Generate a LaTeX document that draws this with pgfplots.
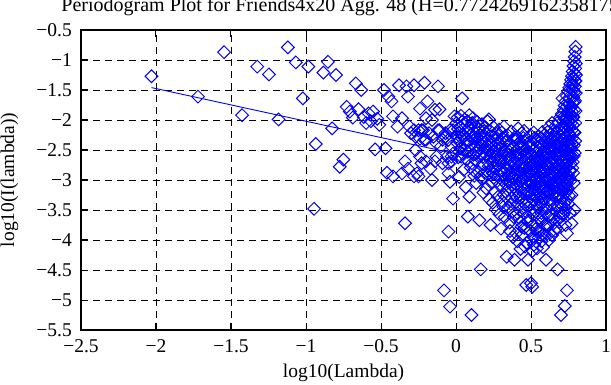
\documentclass[border=0pt]{standalone}
\usepackage{fontspec}
\setmainfont{Liberation Serif}
\usepackage{pgfplots}
\pgfplotsset{compat=1.18}
\newcommand{\fs}{\fontsize{19.5bp}{23bp}\selectfont}
\newcommand{\fst}{\fontsize{20bp}{24bp}\selectfont}
\begin{document}
\begin{tikzpicture}
\begin{axis}[
  scale only axis, width=525bp, height=300bp,
  xmin=-2.5, xmax=1, ymin=-5.5, ymax=-0.5,
  xtick={-2.5,-2,-1.5,-1,-0.5,0,0.5,1},
  xticklabels={−2.5,−2,−1.5,−1,−0.5,0,0.5,1},
  ytick={-5.5,-5,-4.5,-4,-3.5,-3,-2.5,-2,-1.5,-1,-0.5},
  yticklabels={−5.5,−5,−4.5,−4,−3.5,−3,−2.5,−2,−1.5,−1,−0.5},
  tick label style={font=\fs},
  yticklabel style={inner sep=0pt, xshift=-9bp},
  xticklabel style={inner sep=0pt, yshift=-9bp},
  tick align=inside, major tick length=7bp,
  tick style={black, line width=1bp},
  axis line style={black, line width=2bp},
  grid=major,
  major grid style={black, line width=0.9bp, dash pattern=on 7bp off 5bp},
  title={Periodogram Plot for Friends4x20 Agg. 48 (H=0.7724269162358175)},
  title style={font=\fst, at={(axis description cs:0.5,1.0433)}, anchor=base, inner sep=0pt},
  xlabel={log10(Lambda)},
  xlabel style={font=\fs, at={(axis description cs:0.5,-0.1567)}, anchor=base, inner sep=0pt},
  ylabel={log10(I(lambda))},
  ylabel style={font=\fs, at={(axis description cs:-0.1276,0.5)}, rotate=0, anchor=base, inner sep=0pt},
]
\addplot[only marks, color=blue, mark=square, mark size=4.5bp, mark options={rotate=45, solid, line width=1bp}] coordinates {
(-2.03,-1.27) (-1.72,-1.61) (-1.546,-0.87) (-1.426,-1.92) (-1.325,-1.11) (-1.247,-1.24) (-1.183,-1.99)
(-1.121,-0.79) (-1.068,-1.04) (-1.021,-1.64) (-0.984,-1.11) (-0.946,-3.48) (-0.935,-2.4)
(-0.884,-1.21) (-0.854,-1.03) (-0.826,-2.14) (-0.800,-1.25) (-0.775,-2.78) (-0.751,-2.66) (-0.729,-1.78)
(-0.708,-1.86) (-0.688,-1.96) (-0.668,-1.39) (-0.650,-1.82) (-0.632,-1.50) (-0.615,-1.95) (-0.599,-2.05)
(-0.583,-1.89) (-0.568,-2.02) (-0.553,-1.86) (-0.539,-2.49) (-0.525,-1.98) (-0.511,-2.08)
(-0.48,-1.5) (-0.47,-2.47) (-0.46,-2.88) (-0.45,-1.61) (-0.43,-1.69) (-0.42,-1.94) (-0.42,-2.94)
(-0.39,-2.11) (-0.38,-1.42) (-0.36,-1.97) (-0.36,-2.89) (-0.34,-2.69) (-0.34,-3.72) (-0.33,-1.44)
(-0.32,-1.61) (-0.32,-2.81) (-0.30,-2.22) (-0.28,-1.42) (-0.25,-2.17) (-0.25,-2.94) (-0.24,-1.81)
(-0.23,-2.17) (-0.23,-2.72) (-0.21,-1.38) (-0.21,-2.33) (-0.20,-1.97) (-0.19,-1.69) (-0.16,-2.0)
(-0.16,-3.0) (-0.14,-1.83) (-0.14,-2.69) (-0.12,-1.44) (-0.12,-2.17) (-0.11,-1.82) (-0.10,-2.44)
(-0.08,-4.84) (-0.07,-2.28) (-0.06,-2.61) (-0.05,-2.89) (-0.05,-3.86) (-0.04,-3.03) (-0.04,-5.11)
(-0.03,-2.69) (-0.02,-3.31) (-0.02,-2.17) (-0.01,-1.94)
(-0.31,-2.11) (-0.28,-2.17) (-0.27,-2.28) (-0.24,-2.31) (-0.22,-2.17) (-0.20,-2.33) (-0.18,-2.22)
(-0.15,-2.28) (-0.13,-2.39) (-0.11,-2.17) (-0.09,-2.33) (-0.07,-2.22) (-0.05,-2.33) (-0.04,-2.17)
(-0.03,-2.44) (-0.02,-2.56) (-0.13,-2.61) (-0.09,-2.72) (-0.05,-2.72) (-0.03,-2.61) (-0.27,-2.5)
(-0.24,-2.61) (-0.20,-2.69) (-0.17,-2.81) (-0.26,-2.89) (-0.28,-2.94)
(0.003,-2.05) (0.007,-2.38) (0.011,-1.96) (0.015,-2.62) (0.019,-2.21) (0.022,-2.95) (0.026,-2.12)
(0.030,-2.47) (0.033,-1.93) (0.037,-2.30) (0.041,-1.64) (0.044,-2.56) (0.048,-2.08) (0.051,-2.83)
(0.055,-2.27) (0.058,-1.99) (0.062,-2.41) (0.065,-3.12) (0.069,-2.18) (0.072,-2.66) (0.076,-2.02)
(0.079,-3.61) (0.083,-2.35) (0.086,-2.14) (0.090,-3.28) (0.093,-2.51) (0.096,-2.25) (0.100,-2.09)
(0.103,-5.25) (0.106,-2.72) (0.110,-2.31) (0.113,-1.97) (0.116,-2.58) (0.119,-2.20) (0.122,-2.93)
(0.126,-2.44) (0.129,-2.11) (0.132,-2.68) (0.135,-3.05) (0.138,-2.29) (0.141,-2.03) (0.144,-2.52)
(0.147,-2.37) (0.150,-2.86) (0.153,-2.15) (0.156,-3.67) (0.159,-2.60) (0.162,-2.26) (0.165,-4.49)
(0.168,-2.41) (0.171,-2.98) (0.174,-2.07) (0.177,-2.74) (0.180,-2.33) (0.183,-3.21) (0.186,-2.19)
(0.189,-2.55) (0.192,-2.88) (0.195,-2.12) (0.198,-2.46) (0.201,-3.14) (0.204,-2.35) (0.207,-2.69)
(0.210,-2.02) (0.213,-2.91) (0.216,-2.50) (0.219,-1.99) (0.222,-3.32)
(0.005,-2.28) (0.013,-2.15) (0.024,-2.35) (0.035,-2.61) (0.046,-2.24) (0.057,-2.49) (0.067,-2.33)
(0.078,-2.53) (0.088,-1.92) (0.098,-2.79) (0.108,-2.05) (0.118,-2.84) (0.128,-2.31) (0.137,-2.55)
(0.146,-2.14) (0.155,-2.47) (0.164,-2.95) (0.173,-2.36) (0.182,-2.61) (0.191,-2.27) (0.200,-2.58)
(0.209,-2.43) (0.218,-2.77) (0.227,-2.36) (0.237,-2.55) (0.246,-2.89) (0.256,-2.44) (0.266,-2.62)
(0.276,-2.31) (0.286,-2.52) (0.296,-2.40)
(0.225,-2.62) (0.228,-2.18) (0.230,-3.75) (0.233,-2.84) (0.235,-2.41) (0.238,-3.05) (0.240,-2.27)
(0.243,-2.71) (0.245,-3.38) (0.248,-2.53) (0.250,-2.12) (0.253,-2.96) (0.255,-2.66) (0.258,-3.19)
(0.260,-2.34) (0.263,-2.80) (0.265,-3.49) (0.268,-2.47) (0.270,-2.23) (0.273,-3.02) (0.275,-2.75)
(0.278,-2.58) (0.280,-3.28) (0.283,-2.39) (0.285,-2.91) (0.288,-2.16) (0.290,-3.57) (0.293,-2.68)
(0.295,-2.85) (0.298,-3.11) (0.300,-3.81) (0.303,-2.44) (0.305,-2.99) (0.308,-2.30) (0.310,-3.36)
(0.313,-2.77) (0.315,-2.55) (0.318,-3.24) (0.320,-2.11) (0.323,-2.88) (0.325,-3.62) (0.328,-2.63)
(0.330,-2.37) (0.333,-3.07) (0.335,-2.82) (0.338,-4.28) (0.340,-2.49) (0.343,-3.16) (0.345,-2.71)
(0.348,-2.26) (0.350,-3.44) (0.353,-2.94) (0.355,-2.58) (0.358,-3.71) (0.360,-2.40) (0.363,-3.03)
(0.365,-2.78) (0.368,-2.19) (0.370,-3.30) (0.373,-2.67) (0.375,-2.88) (0.378,-3.52) (0.380,-2.45)
(0.383,-3.12) (0.385,-2.33) (0.388,-2.96) (0.390,-4.33) (0.393,-2.61) (0.395,-3.25) (0.398,-2.74)
(0.400,-3.89)
(0.301,-2.65) (0.306,-2.21) (0.311,-2.90) (0.316,-3.45) (0.321,-2.52) (0.326,-2.98) (0.331,-3.28)
(0.336,-2.35) (0.341,-2.83) (0.346,-3.50) (0.351,-2.64) (0.356,-3.12) (0.361,-2.92) (0.366,-3.40)
(0.371,-2.50) (0.376,-3.08) (0.381,-2.73) (0.386,-3.62) (0.391,-2.29) (0.396,-2.98) (0.401,-3.30)
(0.405,-2.60) (0.409,-3.55) (0.413,-2.88) (0.417,-2.40) (0.421,-3.25) (0.425,-2.55) (0.429,-3.70)
(0.433,-3.02) (0.437,-2.48) (0.441,-3.35) (0.445,-2.82) (0.449,-2.30) (0.453,-3.15) (0.457,-3.80)
(0.461,-2.68) (0.465,-3.42) (0.469,-2.95) (0.473,-2.55) (0.477,-3.20) (0.481,-3.62) (0.485,-2.38)
(0.489,-3.05) (0.493,-2.80) (0.497,-3.50)
(0.402,-2.52) (0.404,-3.08) (0.406,-2.29) (0.408,-2.83) (0.410,-3.41) (0.412,-2.66) (0.414,-2.14)
(0.416,-3.19) (0.418,-2.94) (0.420,-2.47) (0.422,-3.63) (0.424,-2.75) (0.426,-3.02) (0.428,-2.36)
(0.430,-3.30) (0.432,-2.58) (0.434,-2.89) (0.436,-3.78) (0.438,-2.22) (0.440,-3.13) (0.442,-2.70)
(0.444,-3.47) (0.446,-2.43) (0.448,-2.97) (0.450,-3.22) (0.452,-2.61) (0.454,-2.18) (0.456,-3.56)
(0.458,-2.81) (0.460,-4.11) (0.462,-2.50) (0.464,-3.05) (0.466,-2.77) (0.468,-4.75) (0.470,-3.36)
(0.472,-2.31) (0.474,-2.92) (0.476,-3.69) (0.478,-2.64) (0.480,-4.33) (0.482,-3.10) (0.484,-2.45)
(0.486,-2.86) (0.488,-3.27) (0.490,-2.56) (0.492,-3.85) (0.494,-2.72) (0.496,-2.25) (0.498,-3.01)
(0.500,-4.72) (0.502,-3.40) (0.504,-2.68) (0.506,-2.91) (0.508,-4.78) (0.510,-3.16) (0.512,-2.39)
(0.514,-3.58) (0.516,-2.80) (0.518,-2.21) (0.520,-3.33) (0.522,-2.63) (0.524,-3.95) (0.526,-2.48)
(0.528,-3.07) (0.530,-2.85) (0.532,-3.52) (0.534,-2.34) (0.536,-2.99) (0.538,-3.74) (0.540,-4.14)
(0.542,-2.70) (0.544,-3.21) (0.546,-2.57) (0.548,-3.44) (0.550,-2.92) (0.552,-2.27) (0.554,-3.63)
(0.556,-2.78) (0.558,-3.11) (0.560,-2.49) (0.562,-3.86) (0.564,-2.66) (0.566,-3.29) (0.568,-2.41)
(0.570,-3.00) (0.572,-3.70) (0.574,-2.59) (0.576,-2.20) (0.578,-3.38) (0.580,-2.87) (0.582,-3.15)
(0.584,-2.52) (0.586,-3.91) (0.588,-2.74) (0.590,-3.24) (0.592,-2.35) (0.594,-3.55) (0.596,-2.96)
(0.598,-2.62) (0.600,-4.33)
(0.501,-2.58) (0.505,-3.22) (0.509,-2.95) (0.513,-3.75) (0.517,-2.50) (0.521,-3.10) (0.525,-2.30)
(0.529,-3.42) (0.533,-2.78) (0.537,-3.30) (0.541,-2.45) (0.545,-3.85) (0.549,-2.62) (0.553,-3.05)
(0.557,-2.38) (0.561,-3.25) (0.565,-2.90) (0.569,-3.55) (0.573,-2.32) (0.577,-3.00) (0.581,-3.45)
(0.585,-2.70) (0.589,-2.25) (0.593,-3.12) (0.597,-3.75) (0.601,-2.45) (0.606,-3.00) (0.610,-2.20)
(0.615,-3.60) (0.620,-2.35) (0.624,-3.15) (0.629,-2.70) (0.634,-3.42) (0.638,-2.30) (0.643,-3.05)
(0.648,-2.45) (0.652,-3.72) (0.657,-2.28) (0.662,-3.20) (0.666,-2.55) (0.671,-3.02) (0.676,-2.20)
(0.680,-3.45) (0.685,-2.38) (0.690,-3.00) (0.694,-2.25) (0.699,-3.40)
(0.602,-2.71) (0.604,-3.18) (0.605,-2.28) (0.607,-3.47) (0.609,-2.55) (0.611,-2.93) (0.612,-3.74)
(0.614,-2.39) (0.616,-3.05) (0.618,-2.12) (0.619,-2.80) (0.621,-3.33) (0.623,-2.61) (0.625,-3.89)
(0.626,-2.46) (0.628,-2.98) (0.630,-3.21) (0.632,-2.24) (0.633,-2.73) (0.635,-3.58) (0.637,-2.52)
(0.639,-3.09) (0.640,-2.05) (0.642,-2.87) (0.644,-3.40) (0.646,-2.34) (0.647,-2.66) (0.649,-3.66)
(0.651,-2.95) (0.653,-2.18) (0.654,-3.14) (0.656,-2.58) (0.658,-2.81) (0.660,-3.51) (0.661,-2.42)
(0.663,-3.02) (0.665,-2.10) (0.667,-3.27) (0.668,-2.69) (0.670,-3.80) (0.672,-2.31) (0.674,-2.90)
(0.675,-3.43) (0.677,-4.49) (0.679,-2.56) (0.681,-3.11) (0.682,-2.03) (0.684,-2.77) (0.686,-3.62)
(0.688,-2.45) (0.689,-2.97) (0.691,-3.24) (0.693,-1.96) (0.695,-2.64) (0.696,-3.55) (0.698,-2.36)
(0.700,-5.25) (0.700,-2.85)
(0.701,-3.15) (0.702,-2.14) (0.703,-2.58) (0.704,-3.46) (0.705,-1.90) (0.706,-2.79) (0.707,-3.02)
(0.708,-2.33) (0.709,-2.66) (0.710,-1.64) (0.711,-3.31) (0.712,-2.47) (0.713,-2.02) (0.714,-2.91)
(0.715,-3.58) (0.716,-2.24) (0.717,-2.71) (0.718,-1.83) (0.719,-3.10) (0.720,-2.53) (0.721,-2.12)
(0.722,-3.39) (0.723,-2.86) (0.724,-1.76) (0.725,-5.10) (0.726,-2.40) (0.727,-2.97) (0.728,-2.06)
(0.729,-3.22) (0.730,-2.62) (0.731,-1.69) (0.732,-2.81) (0.733,-2.29) (0.734,-3.48) (0.735,-1.95)
(0.736,-2.74) (0.737,-2.44) (0.738,-3.05) (0.739,-1.60) (0.740,-3.89) (0.740,-4.84) (0.741,-2.18)
(0.742,-3.33) (0.743,-2.56) (0.744,-1.87) (0.745,-2.91) (0.746,-2.35) (0.747,-1.52) (0.748,-3.14)
(0.749,-2.68) (0.750,-2.01) (0.751,-2.47) (0.752,-1.73) (0.753,-3.26) (0.754,-2.22) (0.755,-1.46)
(0.756,-2.84) (0.757,-2.11) (0.758,-1.65) (0.759,-2.58) (0.760,-1.92) (0.761,-3.02) (0.762,-1.40)
(0.763,-2.37) (0.764,-1.79) (0.765,-2.73) (0.766,-2.05) (0.767,-1.33) (0.768,-2.49) (0.769,-1.58)
(0.770,-3.72) (0.771,-2.17) (0.772,-1.86) (0.773,-1.27) (0.774,-2.62) (0.775,-1.49) (0.776,-2.30)
(0.777,-1.71) (0.778,-1.19) (0.779,-2.08) (0.780,-1.42) (0.781,-2.88) (0.782,-1.62) (0.783,-1.10)
(0.784,-1.95) (0.785,-1.31) (0.786,-2.42) (0.787,-1.54) (0.788,-1.02) (0.789,-1.83) (0.790,-3.50)
(0.790,-1.23) (0.791,-2.21) (0.792,-0.95) (0.793,-1.44) (0.794,-1.68) (0.795,-1.14) (0.796,-0.86)
(0.797,-1.35) (0.798,-0.78) (0.799,-1.06) (0.800,-1.25)
(0.7015,-2.45) (0.7045,-2.95) (0.7075,-2.15) (0.7105,-3.20) (0.7135,-2.58) (0.7165,-1.95) (0.7195,-2.85)
(0.7225,-2.30) (0.7255,-3.05) (0.7285,-2.48) (0.7315,-2.00) (0.7345,-2.95) (0.7375,-2.25) (0.7405,-2.70)
(0.7435,-2.10) (0.7465,-3.00) (0.7495,-2.40) (0.7525,-1.88) (0.7555,-2.60) (0.7585,-2.25) (0.7615,-2.85)
(0.7645,-2.00) (0.7675,-2.60) (0.7705,-1.78) (0.7735,-2.40) (0.7765,-1.95) (0.7795,-2.70) (0.7825,-1.50)
(0.7855,-2.20) (0.7885,-1.70) (0.7915,-2.55) (0.7945,-1.35) (0.7975,-1.85) (0.7995,-1.55)
(0.38,-3.95) (0.41,-4.02) (0.44,-3.92) (0.47,-4.05) (0.50,-3.98) (0.52,-4.08) (0.55,-3.96)
(0.57,-4.02) (0.59,-3.94) (0.62,-4.00) (0.64,-3.92) (0.43,-4.15) (0.51,-4.18) (0.58,-4.12)
(0.66,-3.85) (0.36,-3.85) (0.45,-3.75) (0.53,-3.82) (0.61,-3.78) (0.69,-3.70) (0.72,-3.55)
(0.75,-3.40) (0.77,-3.25) (0.76,-3.55) (0.73,-3.75)
(0.503,-2.85) (0.511,-3.05) (0.519,-2.72) (0.527,-3.25) (0.535,-2.55) (0.543,-2.98) (0.551,-3.18)
(0.559,-2.68) (0.567,-3.08) (0.575,-2.80) (0.583,-3.30) (0.591,-2.58) (0.599,-3.00) (0.607,-2.78)
(0.613,-3.22) (0.622,-2.50) (0.631,-2.92) (0.641,-3.25) (0.650,-2.62) (0.659,-3.05) (0.669,-2.40)
(0.678,-2.85) (0.687,-3.15) (0.697,-2.55) (0.706,-2.70) (0.716,-3.15) (0.726,-2.65) (0.736,-3.20)
(0.746,-2.60) (0.756,-2.95) (0.766,-2.45) (0.776,-2.80) (0.786,-2.60) (0.796,-2.05) (0.785,-3.05)
(0.795,-2.35)
};
\addplot[color=blue, no marks, line width=0.9bp] coordinates {(-2.03,-1.46) (0.80,-3.00)};
\end{axis}
\pgfresetboundingbox
\path[use as bounding box] (current axis.south west) ++(-81bp,-55bp) rectangle ++(611bp,385bp);
\end{tikzpicture}
\end{document}
